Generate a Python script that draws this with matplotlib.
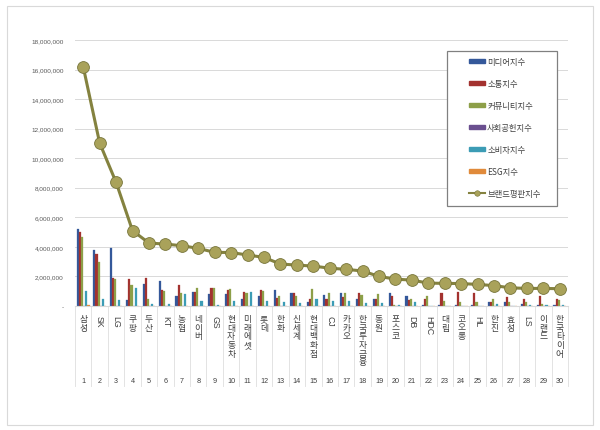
import numpy as np
import matplotlib
matplotlib.use("Agg")
import matplotlib.pyplot as plt
from matplotlib.patches import Rectangle
from matplotlib.lines import Line2D
from matplotlib.transforms import blended_transform_factory

plt.rcParams['font.family'] = ['Noto Sans CJK KR', 'DejaVu Sans']

# data
companies = ['삼성', 'SK', 'LG', '쿠팡', '두산', 'KT', '농협', '네이버', 'GS', '현대자동차',
             '미래에셋', '롯데', '한화', '신세계', '현대백화점', 'CJ', '카카오', '한국투자금융', '동원', '포스코',
             'DB', 'HDC', '대림', '코오롱', 'HL', '한진', '효성', 'LS', '이랜드', '한국타이어']
ranks = list(range(1, 31))

media = [5190000, 3790000, 3950000, 380000, 1510000, 1710000, 700000, 970000, 800000, 800000,
         450000, 700000, 1100000, 900000, 300000, 720000, 860000, 500000, 450000, 860000,
         700000, 100000, 100000, 100000, 100000, 300000, 250000, 150000, 100000, 100000]
talk = [5030000, 3520000, 1920000, 1800000, 1870000, 1060000, 1400000, 970000, 1200000, 1050000,
        950000, 1050000, 550000, 900000, 450000, 500000, 600000, 860000, 450000, 700000,
        400000, 500000, 860000, 950000, 860000, 300000, 600000, 500000, 700000, 450000]
community = [4690000, 2950000, 1800000, 1420000, 490000, 1010000, 860000, 1220000, 1200000, 1150000,
             900000, 1000000, 700000, 650000, 1150000, 860000, 860000, 720000, 800000, 100000,
             450000, 700000, 350000, 250000, 250000, 450000, 300000, 250000, 150000, 400000]
social = [30000, 20000, 20000, 10000, 20000, 20000, 20000, 10000, 10000, 20000,
          10000, 10000, 20000, 10000, 10000, 10000, 10000, 10000, 10000, 10000,
          10000, 10000, 10000, 10000, 10000, 10000, 10000, 10000, 10000, 10000]
consumer = [1040000, 470000, 430000, 1240000, 110000, 130000, 830000, 330000, 100000, 350000,
            950000, 350000, 250000, 200000, 450000, 350000, 350000, 200000, 200000, 50000,
            250000, 30000, 20000, 20000, 20000, 150000, 30000, 100000, 50000, 100000]
esg = [60000, 30000, 20000, 10000, 30000, 20000, 20000, 10000, 20000, 20000,
       10000, 10000, 10000, 10000, 10000, 10000, 10000, 10000, 10000, 10000,
       10000, 10000, 10000, 10000, 10000, 10000, 10000, 10000, 10000, 10000]
brand = [16190000, 11030000, 8370000, 5100000, 4260000, 4190000, 4080000, 3900000, 3630000, 3620000,
         3450000, 3290000, 2840000, 2770000, 2700000, 2560000, 2480000, 2370000, 2000000, 1820000,
         1750000, 1550000, 1530000, 1520000, 1460000, 1380000, 1230000, 1190000, 1190000, 1170000]

series_names = ['미디어지수', '소통지수', '커뮤니티지수', '사회공헌지수', '소비자지수', 'ESG지수']
series_vals = [media, talk, community, social, consumer, esg]
series_cols = ['#34589a', '#a3322f', '#8d9f48', '#6a4f8f', '#3c9cb5', '#e08a3a']
line_name = '브랜드평판지수'

W, H = 600, 431
fig = plt.figure(figsize=(W / 100, H / 100), dpi=100)
fig.patch.set_facecolor('white')
fig.add_artist(Rectangle((7 / W, 1 - 426 / H), 586 / W, 419 / H, transform=fig.transFigure,
                         fill=False, edgecolor='#d9d9d9', lw=0.8))

ax = fig.add_axes([75 / W, 1 - 307 / H, 493 / W, 266 / H])
x = np.array(ranks)
bw = 0.13
for i, (vals, c) in enumerate(zip(series_vals, series_cols)):
    ax.bar(x + (i - 2.5) * bw, vals, bw, color=c, edgecolor=c, lw=0.2, zorder=2)

ax.plot(x, brand, color='#84823f', lw=2.2, marker='o', ms=8.5,
        mfc='#a9a25a', mec='#77753a', mew=0.6, zorder=3)

ax.set_xlim(0.5, 30.5)
ax.set_ylim(0, 18000000)
yt = np.arange(0, 18000001, 2000000)
ax.set_yticks(yt)
ax.set_yticklabels(['-'] + [f'{v:,}' for v in yt[1:]], family='Liberation Sans',
                   fontsize=4.6, color='#595959')
ax.tick_params(axis='y', length=0, pad=8)
ax.set_xticks([])
ax.grid(axis='y', color='#d9d9d9', lw=0.7, zorder=0)
for s in ['top', 'right', 'left']:
    ax.spines[s].set_visible(False)
ax.spines['bottom'].set_color('#d9d9d9')
ax.spines['bottom'].set_linewidth(0.8)

# category labels below the axis
tr = blended_transform_factory(ax.transData, ax.transAxes)
for xi, name, r in zip(x, companies, ranks):
    if name.isascii():
        ax.text(xi, -9 / 266, name, transform=tr, rotation=-90, ha='center', va='top',
                fontsize=6.3, color='#404040', family='Liberation Sans')
    else:
        ax.text(xi, -8 / 266, '\n'.join(name), transform=tr, ha='center', va='top',
                fontsize=6.3, color='#404040', linespacing=0.95)
    ax.text(xi, -75 / 266, str(r), transform=tr, ha='center', va='center',
            fontsize=5.2, color='#404040', family='Liberation Sans')
for b in np.arange(0.5, 31, 1):
    ax.plot([b, b], [0, -80 / 266], transform=tr, color='#e3e3e3', lw=0.7, clip_on=False)

# legend
fig.add_artist(Rectangle((447 / W, 1 - 207 / H), 110 / W, 155 / H, transform=fig.transFigure,
                         facecolor='white', edgecolor='#808080', lw=0.9, zorder=4))
handles = [Rectangle((0, 0), 1, 1, facecolor=c, edgecolor=c) for c in series_cols]
handles.append(Line2D([], [], color='#84823f', lw=1.5, marker='o', ms=4,
                      mfc='#a9a25a', mec='#77753a', mew=0.4))
fig.legend(handles, series_names + [line_name], loc='upper left',
           bbox_to_anchor=(465 / W, 1 - 54 / H), bbox_transform=fig.transFigure,
           frameon=False, fontsize=6, labelspacing=1.55, handlelength=1.9,
           handleheight=0.45, handletextpad=0.25, borderpad=0, labelcolor='#404040')

fig.savefig('out.png', dpi=100)
